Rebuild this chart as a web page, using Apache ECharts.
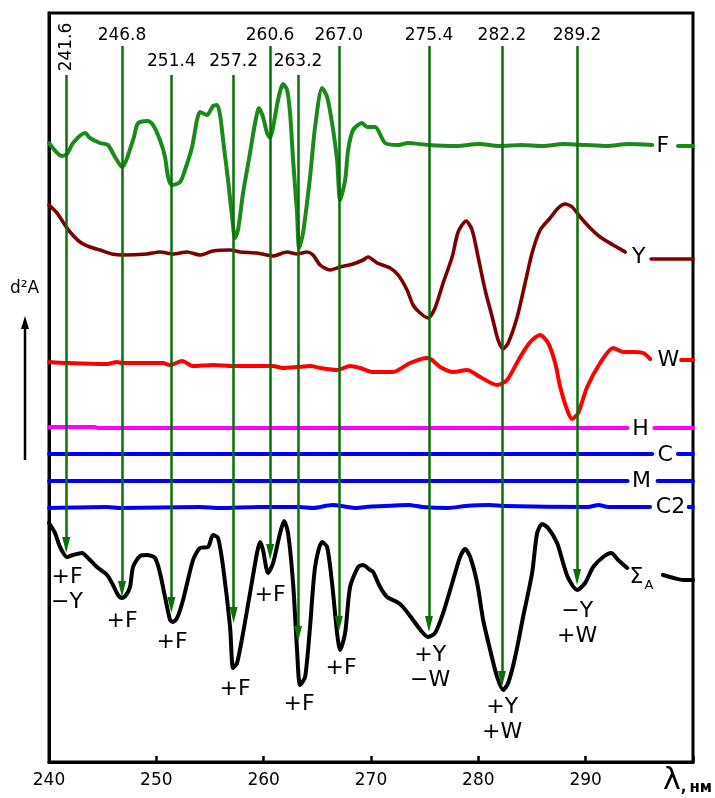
<!DOCTYPE html>
<html><head><meta charset="utf-8">
<script src="https://cdn.jsdelivr.net/npm/echarts@6/dist/echarts.min.js"></script>
<style>html,body{margin:0;padding:0;background:#fff}#c{width:715px;height:798px}</style>
</head><body><div id="c"></div>
<script>
// ---- data: [wavelength nm, relative d2A level] ----
const curveF = [[240.00,619],[241.21,606],[241.68,608],[242.24,619],[243.36,629],[243.82,624],[244.75,619],[245.50,617],[246.15,605],[246.80,595],[247.83,622],[248.20,637],[248.48,640],[249.23,641],[249.69,637],[250.34,622],[250.81,605],[251.09,585],[251.46,577],[252.21,580],[252.67,592],[253.33,615],[253.79,642],[254.07,650],[254.72,647],[255.28,656],[255.66,657],[255.94,647],[256.22,622],[256.68,582],[257.06,545],[257.33,524],[257.61,532],[258.08,569],[258.73,609],[259.20,639],[259.57,654],[259.94,645],[260.32,629],[260.60,624],[260.88,635],[261.34,662],[261.81,678],[262.18,672],[262.46,649],[262.74,602],[263.11,549],[263.30,514],[263.67,529],[264.32,585],[264.79,635],[265.44,674],[265.91,665],[266.37,639],[266.84,602],[267.12,562],[267.59,582],[267.87,612],[268.33,632],[269.17,639],[269.64,635],[270.38,635],[271.31,619],[272.53,617],[273.46,619],[275.32,617],[278,616],[280,618],[282,616],[284,617],[286,616],[288,618],[290,617],[292,616],[294,618],[296.2,617]];
const tailF = [[298.6,616],[300,616]];

const curveY = [[240.00,557],[240.75,549],[241.30,540],[241.96,530],[242.89,520],[243.82,515],[244.75,512],[245.87,508],[246.90,507],[249.13,508],[250.34,510],[251.56,508],[252.86,510],[254.07,507],[255.28,511],[256.87,512],[257.80,510],[259.38,509],[260.88,506],[262.18,510],[263.11,508],[264.04,510],[264.60,507],[265.26,497],[266.19,492],[267.12,495],[268.33,498],[269.26,502],[269.73,505],[270.57,499],[271.78,494],[272.53,487],[273.36,472],[273.92,457],[274.58,449],[275.32,444],[275.97,454],[276.72,479],[277.56,505],[278.12,530],[278.86,541],[279.42,532],[279.98,505],[280.63,472],[281.29,445],[281.84,422],[282.31,413],[282.78,419],[283.62,445],[284.36,479],[285.01,509],[285.76,532],[286.69,544],[287.44,554],[288.09,558],[288.74,555],[289.49,545],[290.42,534],[291.35,525],[292.56,517],[293.68,510]];
const tailY = [[296.1,503],[300,503]];

const curveW = [[240.00,400],[241.68,399],[245.41,398],[246.34,400],[246.80,399],[248.48,399],[250.62,399],[251.28,397],[252.40,401],[253.42,396],[255.28,397],[257.15,396],[259.01,396],[260.88,396],[261.81,394],[263.11,395],[264.32,396],[265.26,394],[266.84,392],[268.05,396],[268.98,394],[270.20,390],[272.06,390],[273.64,399],[275.23,404],[275.69,402],[276.44,395],[277.65,390],[278.96,392],[280.17,385],[281.75,377],[282.68,382],[283.90,405],[284.83,420],[285.76,427],[286.50,419],[287.16,399],[287.63,375],[288.28,352],[288.74,343],[289.30,349],[290.14,375],[291.35,399],[292.56,414],[293.49,410],[294.43,410],[295.36,409],[296.01,403]];
const tailW = [[298.9,402],[300,402]];

const curveH = [[240,335],[244.3,335],[244.5,334],[293.9,334]];
const tailH = [[296.4,334],[300,334]];
const curveC = [[240,308],[296.2,308]];
const tailC = [[298.6,308],[300,308]];
const curveM = [[240,281],[293.9,281]];
const tailM = [[296.7,281],[300,281]];
const curveC2 = [[240.0,254],[245.4,255],[246.6,254],[254.1,255],[255.9,254],[259.6,255],[263.3,255],[264.6,254],[266.4,257],[267.8,255],[268.5,254],[269.5,255],[273.5,257],[274.8,255],[277.2,254],[278.8,256],[281.0,257],[282.5,256],[290.2,255],[291.2,257],[292.1,255],[296.0,255]];
const tailC2 = [[299.6,255],[300,255]];

const curveSum = [[240.00,239],[240.56,229],[241.03,215],[241.68,205],[242.24,207],[243.08,209],[243.63,204],[244.47,195],[245.41,187],[245.96,177],[246.43,167],[246.80,164],[247.18,167],[247.55,175],[247.83,195],[248.48,206],[249.13,207],[249.88,204],[250.34,189],[250.81,165],[251.28,142],[251.56,140],[251.93,144],[252.49,162],[253.42,202],[254.07,214],[254.82,215],[255.28,227],[255.75,224],[256.22,195],[256.87,135],[257.15,94],[257.52,99],[258.08,129],[258.73,169],[259.38,209],[259.66,220],[259.94,212],[260.41,189],[260.88,199],[261.53,229],[261.90,241],[262.27,229],[262.74,179],[263.11,112],[263.39,77],[263.86,85],[264.32,135],[264.79,195],[265.44,220],[265.91,215],[266.37,179],[266.84,129],[267.12,112],[267.59,129],[268.05,175],[268.80,195],[269.26,197],[269.92,192],[270.20,190],[270.85,175],[271.50,165],[272.43,160],[272.99,155],[273.92,142],[274.76,130],[275.32,125],[275.97,129],[276.72,149],[277.65,182],[278.30,205],[278.77,213],[279.24,205],[279.89,179],[280.45,142],[281.10,112],[281.75,85],[282.31,72],[282.78,79],[283.43,105],[284.17,145],[285.01,189],[285.48,229],[285.95,238],[286.50,234],[287.34,219],[287.90,199],[288.37,184],[289.21,172],[289.95,179],[290.70,195],[291.63,205],[292.38,209],[293.03,202],[293.87,194]];
const tailSum = [[297.2,187],[298.2,184],[299.1,182],[300,182]];

// assignment arrows
const peakLambda = [241.6, 246.8, 251.4, 257.2, 260.6, 263.2, 267.0, 275.4, 282.2, 289.2];
const peakText   = ['241.6','246.8','251.4','257.2','260.6','263.2','267.0','275.4','282.2','289.2'];
const arrowTop   = [687, 716, 687, 687, 716, 687, 716, 716, 716, 716];
const arrowTip   = [209, 165, 149, 139, 202, 120, 130, 130, 75, 177];
const peakLabelLevel = [715, 726, 700, 700, 726, 700, 726, 726, 726, 726];

// assignment notes under the sum curve
const noteText   = ['+F\n\u2212Y','+F','+F','+F','+F','+F','+F','+Y\n\u2212W','+Y\n+W','\u2212Y\n+W'];
const noteLambda = [241.68, 246.80, 251.46, 257.33, 260.60, 263.30, 267.21, 275.51, 282.22, 289.21];
const noteLevel  = [172, 141, 120, 73, 167, 58, 94, 94, 42, 138];

// curve names
const nameText   = ['F','Y','W','H','C','M','C2','{s|\u03A3}{a|A}'];
const nameLambda = [297.2, 294.95, 297.7, 295.1, 297.4, 295.2, 297.9, 295.2];
const nameLevel  = [616, 505, 402, 333, 307, 281, 255, 185];

const xTicks = [240, 250, 260, 270, 280, 290];

const FONT = 'DejaVu Sans';
function withTail(main, tail) {
  const gapX = (main[main.length - 1][0] + tail[0][0]) / 2;
  return main.concat([[gapX, '-']], tail);
}
function curve(name, main, tail, color, width) {
  return {
    name, type: 'line', data: withTail(main, tail), showSymbol: false, symbol: 'none',
    smooth: 0.25, connectNulls: false, clip: false,
    lineStyle: { color, width, cap: 'round', join: 'round' }, z: 3, silent: true
  };
}
function textSeries(name, data) {
  return { name, type: 'scatter', symbolSize: 0, silent: true, z: 10,
    itemStyle: { opacity: 1 }, data };
}

const chart = echarts.init(document.getElementById('c'), null, { renderer: 'canvas' });
const option = {
  animation: false,
  backgroundColor: '#fff',
  grid: { left: 49, right: 22, top: 13, bottom: 36, show: true, borderColor: '#000', borderWidth: 3, backgroundColor: 'transparent' },
  xAxis: {
    type: 'value', min: 240, max: 300, interval: 10,
    axisLine: { show: true, lineStyle: { color: '#000', width: 3 } },
    axisTick: { show: true, inside: true, length: 6, lineStyle: { color: '#000', width: 2.5 } },
    axisLabel: { color: '#000', fontFamily: FONT, fontSize: 17, margin: 10,
      formatter: v => (xTicks.indexOf(v) >= 0 ? String(v) : '') },
    splitLine: { show: false }
  },
  yAxis: {
    type: 'value', min: 0, max: 749,
    axisLine: { show: true, lineStyle: { color: '#000', width: 3 } },
    axisTick: { show: false }, axisLabel: { show: false }, splitLine: { show: false }
  },
  series: [
    curve('F', curveF, tailF, '#1b8a1b', 4),
    curve('Y', curveY, tailY, '#7d0000', 3.6),
    curve('W', curveW, tailW, '#ff0000', 4),
    curve('H', curveH, tailH, '#ff00ff', 4),
    curve('C', curveC, tailC, '#0000ff', 4),
    curve('M', curveM, tailM, '#0000ff', 4),
    curve('C2', curveC2, tailC2, '#0000ff', 4),
    curve('Sum', curveSum, tailSum, '#000000', 4),
    {
      name: 'arrows', type: 'line', data: [], silent: true, z: 5,
      markLine: {
        silent: true, animation: false,
        symbol: ['none', 'triangle'], symbolSize: [8, 16],
        label: { show: false },
        lineStyle: { color: '#0b6e0b', width: 2.5, type: 'solid', opacity: 1 },
        itemStyle: { color: '#0b6e0b', opacity: 1 },
        emphasis: { disabled: true },
        data: peakLambda.map((l, i) => [{ coord: [l, arrowTop[i]] }, { coord: [l, arrowTip[i] + 8] }])
      }
    },
    textSeries('peakLabels', peakLambda.map((l, i) => ({
      value: [l, peakLabelLevel[i]],
      label: { show: true, position: 'inside', formatter: peakText[i], rotate: i === 0 ? 90 : 0,
        color: '#000', opacity: 1, fontFamily: FONT, fontSize: 17 }
    }))),
    textSeries('notes', noteLambda.map((l, i) => ({
      value: [l, noteLevel[i]],
      label: { show: true, position: 'inside', formatter: noteText[i], align: 'center',
        color: '#000', opacity: 1, fontFamily: FONT, fontSize: 22, lineHeight: 25 }
    }))),
    textSeries('names', nameLambda.map((l, i) => ({
      value: [l, nameLevel[i]],
      label: { show: true, position: 'inside', formatter: nameText[i],
        color: '#000', opacity: 1, fontFamily: FONT, fontSize: 22,
        rich: { s: { fontFamily: FONT, fontSize: 22, color: '#000', verticalAlign: 'bottom' },
                a: { fontFamily: FONT, fontSize: 13, color: '#000', verticalAlign: 'bottom', padding: [0, 0, -4, 1] } } }
    })))
  ],
  graphic: [
    { type: 'text', left: 10, top: 280, style: { text: 'd\u00B2A', fill: '#000', font: '17px "DejaVu Sans"' } },
    { type: 'line', shape: { x1: 25, y1: 460, x2: 25, y2: 326 }, style: { stroke: '#000', lineWidth: 2.5 } },
    { type: 'polygon', shape: { points: [[21, 329], [29, 329], [25, 316]] }, style: { fill: '#000' } },
    { type: 'text', left: 663, top: 766, style: {
        text: '{l|\u03BB}{n|,\u2009\u043D\u043C}', fill: '#000',
        rich: { l: { fontFamily: FONT, fontSize: 30, fill: '#000', verticalAlign: 'bottom' },
                n: { fontFamily: FONT, fontSize: 15, fontWeight: 'bold', fill: '#000', verticalAlign: 'bottom' } } } }
  ]
};
chart.setOption(option);
</script>
</body></html>
